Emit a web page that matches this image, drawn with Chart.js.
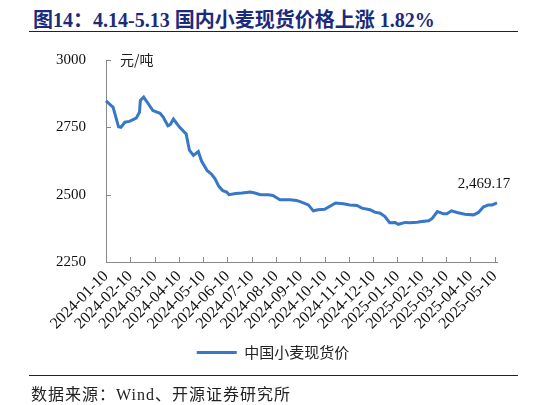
<!DOCTYPE html>
<html>
<head>
<meta charset="utf-8">
<script src="https://cdn.jsdelivr.net/npm/chart.js@4"></script>
<style>
  html, body { margin: 0; padding: 0; background: #fff; }
  #wrap { position: relative; width: 546px; height: 405px; overflow: hidden; }
  #chart { position: absolute; left: 0; top: 0; }
  #title { position: absolute; left: 33px; top: 4px; white-space: nowrap;
    font: bold 20px "Liberation Serif", "Noto Sans CJK SC"; color: #1b2a7c; }
  .rule { position: absolute; left: 29px; width: 489px; height: 0; border-top: 1.5px solid #222; }
  #foot { position: absolute; left: 31px; top: 381px; white-space: nowrap; letter-spacing: 1px;
    font: 16px "Liberation Serif", "Noto Sans CJK SC"; color: #222; }
</style>
</head>
<body>
<div id="wrap">
  <div id="title">图14：4.14-5.13 国内小麦现货价格上涨 1.82%</div>
  <div class="rule" style="top:31px"></div>
  <canvas id="chart" width="546" height="405"></canvas>
  <div class="rule" style="top:375px"></div>
  <div id="foot">数据来源：Wind、开源证券研究所</div>
</div>
<script>
// 国内小麦现货价（元/吨）
const SERIES_NAME = '中国小麦现货价';
const UNIT = '元/吨';
const LAST_LABEL = '2,469.17';

const DATES = [
  '2024-01-10', '2024-01-17', '2024-01-19', '2024-01-26', '2024-01-29', '2024-02-03', '2024-02-09',
  '2024-02-17', '2024-02-21', '2024-02-22', '2024-02-26', '2024-03-01', '2024-03-08', '2024-03-17',
  '2024-03-21', '2024-03-27', '2024-03-30', '2024-04-03', '2024-04-11', '2024-04-19', '2024-04-23',
  '2024-04-28', '2024-05-04', '2024-05-08', '2024-05-15', '2024-05-21', '2024-05-25', '2024-05-30',
  '2024-06-04', '2024-06-09', '2024-06-12', '2024-06-20', '2024-06-28', '2024-07-08', '2024-07-14',
  '2024-07-21', '2024-07-31', '2024-08-06', '2024-08-15', '2024-08-28', '2024-09-05', '2024-09-09',
  '2024-09-20', '2024-09-26', '2024-10-02', '2024-10-10', '2024-10-24', '2024-11-03', '2024-11-11',
  '2024-11-20', '2024-11-26', '2024-12-06', '2024-12-12', '2024-12-19', '2024-12-25', '2024-12-31',
  '2025-01-07', '2025-01-11', '2025-01-20', '2025-01-26', '2025-02-04', '2025-02-10', '2025-02-18',
  '2025-02-22', '2025-02-28', '2025-03-07', '2025-03-11', '2025-03-17', '2025-03-24', '2025-04-03',
  '2025-04-14', '2025-04-20', '2025-04-26', '2025-05-02', '2025-05-07', '2025-05-13'
];

const PRICES = [
  2848, 2830, 2825, 2752, 2750, 2769, 2772,
  2784, 2806, 2850, 2862, 2844, 2812, 2802,
  2788, 2756, 2760, 2781, 2750, 2725, 2665,
  2646, 2660, 2625, 2590, 2575, 2560, 2531,
  2515, 2510, 2500, 2504, 2506, 2510, 2506,
  2500, 2500, 2497, 2481, 2481, 2478, 2475,
  2462, 2440, 2444, 2446, 2469, 2466, 2462,
  2460, 2450, 2444, 2435, 2431, 2419, 2396,
  2397, 2390, 2397, 2396, 2398, 2400, 2403,
  2412, 2437, 2429, 2429, 2440, 2434, 2427,
  2425, 2434, 2454, 2462, 2462, 2469.17
];

const X_LABELS = [
  '2024-01-10', '2024-02-10', '2024-03-10', '2024-04-10', '2024-05-10', '2024-06-10',
  '2024-07-10', '2024-08-10', '2024-09-10', '2024-10-10', '2024-11-10', '2024-12-10',
  '2025-01-10', '2025-02-10', '2025-03-10', '2025-04-10', '2025-05-10'
];

const Y_MIN = 2250, Y_MAX = 3000, Y_STEP = 250;

const LINE_COLOR = '#3777c8';
const AXIS_COLOR = '#8a8a8a';
const SERIF = '"Liberation Serif", "Times New Roman", serif';
const CJK = '"Noto Sans CJK SC", sans-serif';

// position on the month axis: each 10th-to-10th interval is one unit
function monthPos(s) {
  const [yy, mm, dd] = s.split('-').map(Number);
  let k = (yy - 2024) * 12 + (mm - 1);
  if (dd < 10) k -= 1;
  const start = Date.UTC(2024, k, 10);
  const end = Date.UTC(2024, k + 1, 10);
  return k + (Date.UTC(yy, mm - 1, dd) - start) / (end - start);
}

const points = DATES.map((d, i) => ({ x: monthPos(d), y: PRICES[i] }));

const decor = {
  id: 'decor',
  afterDatasetsDraw(chart) {
    const { ctx, chartArea: a, scales: { x, y } } = chart;
    ctx.save();
    ctx.strokeStyle = AXIS_COLOR;
    ctx.lineWidth = 1;
    ctx.beginPath();
    y.ticks.forEach(t => {
      const py = Math.round(y.getPixelForValue(t.value)) + 0.5;
      ctx.moveTo(a.left, py);
      ctx.lineTo(a.left + 5, py);
    });
    x.ticks.forEach(t => {
      const px = Math.round(x.getPixelForValue(t.value)) + 0.5;
      ctx.moveTo(px, a.bottom);
      ctx.lineTo(px, a.bottom - 5);
    });
    ctx.stroke();

    ctx.fillStyle = '#222';
    ctx.font = '14px ' + CJK;
    ctx.textAlign = 'left';
    ctx.textBaseline = 'middle';
    ctx.fillText(UNIT, a.left + 14, a.top);

    const meta = chart.getDatasetMeta(0);
    const last = meta.data[meta.data.length - 1];
    ctx.fillStyle = '#111';
    ctx.font = '15px ' + SERIF;
    ctx.textAlign = 'center';
    ctx.textBaseline = 'alphabetic';
    ctx.fillText(LAST_LABEL, last.x - 13, last.y - 15);
    ctx.restore();
  }
};

new Chart(document.getElementById('chart'), {
  type: 'line',
  data: {
    datasets: [{
      label: SERIES_NAME,
      data: points,
      borderColor: LINE_COLOR,
      backgroundColor: LINE_COLOR,
      borderWidth: 3,
      pointRadius: 0,
      tension: 0,
      clip: false
    }]
  },
  options: {
    responsive: false,
    animation: false,
    layout: { padding: { top: 60, right: 49, left: 49, bottom: 35 } },
    scales: {
      x: {
        type: 'linear',
        min: 0,
        max: monthPos(DATES[DATES.length - 1]),
        afterFit: s => { s.height = 73; },
        grid: { drawOnChartArea: false, drawTicks: false },
        border: { color: AXIS_COLOR, width: 1 },
        ticks: {
          stepSize: 1,
          includeBounds: false,
          autoSkip: false,
          minRotation: 45,
          maxRotation: 45,
          padding: 5,
          color: '#111',
          font: { family: SERIF, size: 16 },
          callback: v => X_LABELS[v] ?? ''
        }
      },
      y: {
        min: Y_MIN,
        max: Y_MAX,
        afterFit: s => { s.width = 57; },
        grid: { drawOnChartArea: false, drawTicks: false },
        border: { color: AXIS_COLOR, width: 1 },
        ticks: {
          stepSize: Y_STEP,
          padding: 20,
          color: '#111',
          font: { family: SERIF, size: 15 },
          callback: v => String(v)
        }
      }
    },
    plugins: {
      legend: {
        position: 'bottom',
        labels: {
          usePointStyle: true,
          pointStyle: 'line',
          pointStyleWidth: 40,
          padding: 10,
          color: '#222',
          font: { family: CJK, size: 15 }
        }
      },
      tooltip: { enabled: false }
    }
  },
  plugins: [decor]
});
</script>
</body>
</html>
